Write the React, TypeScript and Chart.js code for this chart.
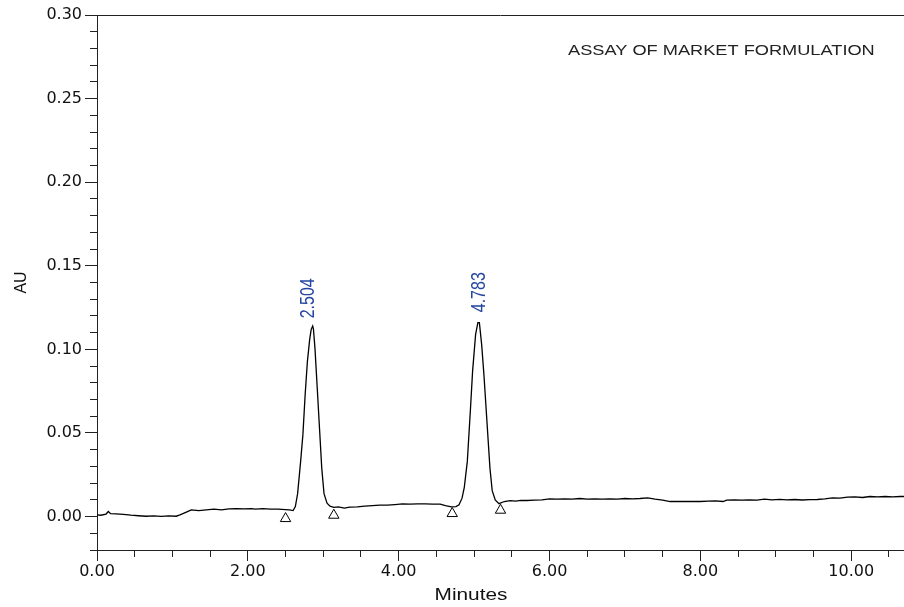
import React, { useEffect, useRef } from "react";
import { Chart, registerables } from "chart.js";

Chart.register(...registerables);

// ---- data (minutes, AU) ----
const times = [
  0.0, 0.05, 0.12, 0.15, 0.18, 0.25, 0.35, 0.45, 0.55, 0.65, 0.75, 0.85, 0.95, 1.05, 1.1, 1.2, 1.25, 1.35, 1.45,
  1.55, 1.65, 1.75, 1.85, 1.95, 2.05, 2.1, 2.2, 2.3, 2.4, 2.5, 2.55, 2.6,
  2.63, 2.66, 2.7, 2.73, 2.76, 2.79, 2.82, 2.84, 2.86, 2.87, 2.89, 2.92, 2.95, 2.98, 3.01, 3.05, 3.09, 3.14,
  3.2, 3.28, 3.35, 3.45, 3.55, 3.65, 3.75, 3.85, 3.95, 4.05, 4.15, 4.25, 4.35, 4.45, 4.55, 4.62, 4.7, 4.76,
  4.8, 4.84, 4.87, 4.91, 4.95, 4.98, 5.02, 5.05, 5.07, 5.1, 5.13, 5.17, 5.21, 5.24, 5.28, 5.33,
  5.4, 5.48, 5.55, 5.62, 5.7, 5.8, 5.9, 6.0, 6.1, 6.2, 6.3, 6.4, 6.5, 6.6, 6.7, 6.8, 6.9, 7.0, 7.1, 7.2, 7.3,
  7.4, 7.5, 7.6, 7.7, 7.8, 7.9, 8.0, 8.1, 8.2, 8.3, 8.35, 8.45, 8.55, 8.65, 8.75, 8.85, 8.95, 9.05, 9.15,
  9.25, 9.35, 9.45, 9.55, 9.65, 9.75, 9.85, 9.95, 10.05, 10.15, 10.25, 10.35, 10.45, 10.55, 10.65, 10.72,
];
const signal = [
  0.001, 0.0008, 0.0015, 0.003, 0.0017, 0.0016, 0.0013, 0.0008, 0.0005, 0.0002, 0.0004, 0.0001, 0.0004, 0.0002,
  0.001, 0.003, 0.004, 0.0036, 0.004, 0.0045, 0.004, 0.0046, 0.0047, 0.0046, 0.0048, 0.0044, 0.0048, 0.0044,
  0.0045, 0.0042, 0.004, 0.0036,
  0.006, 0.0137, 0.033, 0.049, 0.073, 0.093, 0.106, 0.112, 0.114, 0.112, 0.1006, 0.077, 0.053, 0.029, 0.0137,
  0.008, 0.0062, 0.0055,
  0.0058, 0.005, 0.0056, 0.0058, 0.0062, 0.0065, 0.0068, 0.0068, 0.0072, 0.0076, 0.0074, 0.0076, 0.0076,
  0.0074, 0.0074, 0.0066, 0.0058, 0.006,
  0.007, 0.011, 0.0175, 0.033, 0.063, 0.087, 0.109, 0.116, 0.116, 0.103, 0.085, 0.057, 0.029, 0.0155, 0.01,
  0.0077,
  0.009, 0.0095, 0.0092, 0.0097, 0.0096, 0.0098, 0.01, 0.0106, 0.0104, 0.0106, 0.0104, 0.0108, 0.0104, 0.0106,
  0.0104, 0.0106, 0.0104, 0.0108, 0.0106, 0.0108, 0.0112,
  0.0104, 0.0098, 0.009, 0.0091, 0.009, 0.0091, 0.009, 0.0092, 0.0094, 0.009, 0.0098, 0.0099, 0.0098, 0.01,
  0.0098, 0.0104, 0.01, 0.0103, 0.01,
  0.0102, 0.0099, 0.0101, 0.0102, 0.0106, 0.0112, 0.011, 0.0116, 0.0118, 0.0114, 0.012, 0.0118, 0.012, 0.0118,
  0.012, 0.012,
];

// integration markers (peak start / end)
const markerTimes = [2.5, 3.14, 4.71, 5.35];
const markerValues = [-0.0012, 0.0008, 0.0018, 0.0038];

// peak retention-time labels
const peakLabels = ["2.504", "4.783"];
const peakLabelTimes = [2.8, 5.07];
const peakLabelValues = [0.1186, 0.1222];

const chartTitle = "ASSAY OF MARKET FORMULATION";
const xTitle = "Minutes";
const yTitle = "AU";

const X_MIN = 0;
const X_MAX = 10.7;
const Y_MIN = -0.02;
const Y_MAX = 0.3;

const STRETCH = 1.3;

const overlayPlugin = {
  id: "overlay",
  afterDraw(chart: any) {
    const { ctx, chartArea, scales } = chart;
    const xs = scales.x;
    const ys = scales.y;
    ctx.save();
    // top frame line
    ctx.strokeStyle = "#222";
    ctx.lineWidth = 1;
    ctx.beginPath();
    const ty = Math.round(chartArea.top) + 0.5;
    ctx.moveTo(Math.round(chartArea.left), ty);
    ctx.lineTo(chartArea.right, ty);
    ctx.stroke();

    // title inside plot, top-right
    ctx.fillStyle = "#222";
    ctx.font = "14px 'Liberation Sans', Arial, sans-serif";
    ctx.textBaseline = "middle";
    ctx.textAlign = "left";
    ctx.save();
    ctx.translate(chartArea.left + 471, chartArea.top + 36);
    ctx.scale(STRETCH, 1);
    ctx.fillText(chartTitle, 0, 0);
    ctx.restore();

    // x axis title
    ctx.fillStyle = "#111";
    ctx.font = "16px 'Liberation Sans', Arial, sans-serif";
    ctx.textAlign = "center";
    ctx.save();
    ctx.translate(chartArea.left + 374, chartArea.bottom + 46);
    ctx.scale(STRETCH, 1);
    ctx.fillText(xTitle, 0, 0);
    ctx.restore();

    // peak labels (rotated)
    ctx.fillStyle = "#2445a0";
    ctx.font = "16px 'Liberation Sans', Arial, sans-serif";
    ctx.textAlign = "left";
    ctx.textBaseline = "middle";
    peakLabels.forEach((lab, i) => {
      const px = xs.getPixelForValue(peakLabelTimes[i]);
      const py = ys.getPixelForValue(peakLabelValues[i]);
      ctx.save();
      ctx.translate(px, py);
      ctx.scale(STRETCH, 1);
      ctx.rotate(-Math.PI / 2);
      ctx.fillText(lab, 0, 0);
      ctx.restore();
    });
    ctx.restore();
  },
};

const isMajorY = (v: number) => Math.abs(Math.round(v * 100)) % 5 === 0;
const isMajorX = (v: number) => Math.abs(Math.round(v * 10)) % 20 === 0;

export default function App() {
  const ref = useRef<HTMLCanvasElement | null>(null);

  useEffect(() => {
    if (!ref.current) return;
    const chart = new Chart(ref.current, {
      type: "line",
      data: {
        datasets: [
          {
            data: times.map((t, i) => ({ x: t, y: signal[i] })),
            borderColor: "#000",
            borderWidth: 1.3,
            pointRadius: 0,
            tension: 0,
            fill: false,
          },
          {
            data: markerTimes.map((t, i) => ({ x: t, y: markerValues[i] })),
            showLine: false,
            pointStyle: "triangle",
            pointRadius: 6,
            pointBorderWidth: 1,
            pointBorderColor: "#000",
            pointBackgroundColor: "rgba(255,255,255,0)",
          } as any,
        ],
      },
      options: {
        animation: false,
        responsive: true,
        maintainAspectRatio: false,
        layout: { autoPadding: false, padding: { left: 12, top: 15, right: 0, bottom: 0 } },
        plugins: {
          legend: { display: false },
          tooltip: { enabled: false },
          title: { display: false },
        },
        scales: {
          x: {
            type: "linear",
            min: X_MIN,
            max: X_MAX,
            afterFit: (s: any) => {
              s.height = 57;
              s.paddingRight = 0;
              s.paddingLeft = 0;
            },
            border: { display: true, color: "#222", width: 1 },
            grid: {
              display: true,
              drawOnChartArea: false,
              drawTicks: true,
              tickLength: 11,
              tickColor: "#222",
              tickBorderDash: (ctx: any) => (isMajorX(ctx.tick.value) ? [] : [6, 100]),
            },
            ticks: {
              stepSize: 0.5,
              includeBounds: false,
              autoSkip: false,
              maxRotation: 0,
              padding: 1,
              color: "#111",
              font: { family: "'DejaVu Sans', sans-serif", size: 16 },
              callback: (v: any) => (isMajorX(Number(v)) ? Number(v).toFixed(2) : ""),
            },
          },
          y: {
            type: "linear",
            min: Y_MIN,
            max: Y_MAX,
            afterFit: (s: any) => {
              s.width = 85;
            },
            border: { display: true, color: "#222", width: 1 },
            grid: {
              display: true,
              drawOnChartArea: false,
              drawTicks: true,
              tickLength: 12,
              tickColor: "#222",
              tickBorderDash: (ctx: any) => (isMajorY(ctx.tick.value) ? [] : [7, 5]),
              tickBorderDashOffset: (ctx: any) => (isMajorY(ctx.tick.value) ? 0 : 7),
            },
            title: {
              display: true,
              text: yTitle,
              color: "#111",
              padding: { top: 0, bottom: 0 },
              font: { family: "'Liberation Sans', Arial, sans-serif", size: 16 },
            },
            ticks: {
              stepSize: 0.01,
              autoSkip: false,
              padding: 3,
              color: "#111",
              font: { family: "'DejaVu Sans', sans-serif", size: 16 },
              callback: (v: any) => (isMajorY(Number(v)) ? Number(v).toFixed(2) : ""),
            },
          },
        },
      },
      plugins: [overlayPlugin],
    } as any);
    return () => chart.destroy();
  }, []);

  return (
    <div style={{ position: "absolute", left: 0, top: 0, width: 904, height: 607, background: "#fff" }}>
      <canvas ref={ref} />
    </div>
  );
}
